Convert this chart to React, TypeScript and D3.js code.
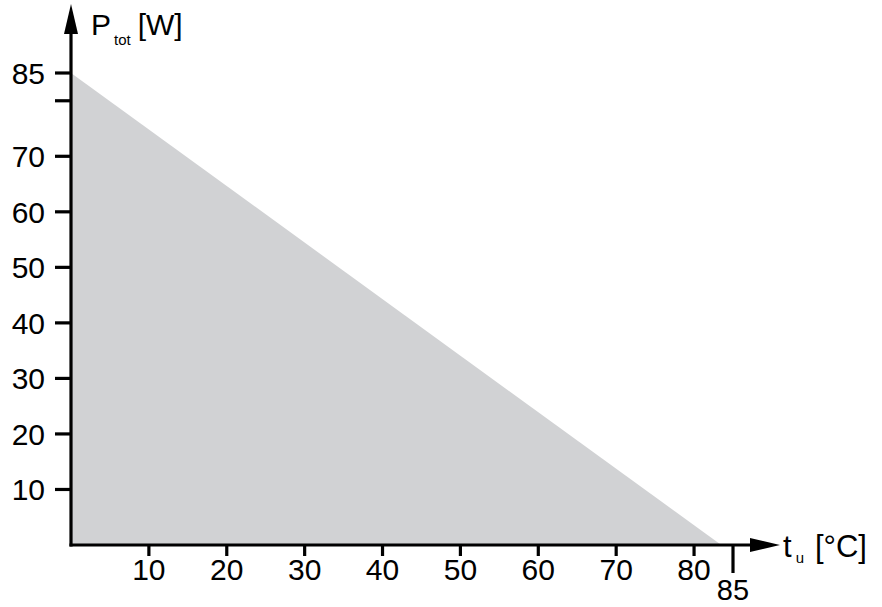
import { useMemo } from 'react';
import { scaleLinear, area } from 'd3';

// derating curve: max power vs ambient temperature
const curveTemp = [0, 83.5];
const curvePower = [85, 0];

const yTicks = [10, 20, 30, 40, 50, 60, 70, 80, 85];
const yTickLabels = ['10', '20', '30', '40', '50', '60', '70', '', '85'];
const xTicks = [10, 20, 30, 40, 50, 60, 70, 80];
const xTickLabels = ['10', '20', '30', '40', '50', '60', '70', '80'];
const xMaxTick = 85;

const width = 882;
const height = 607;
const font = '"Liberation Sans", Arial, Helvetica, sans-serif';

export default function App() {
  const x = useMemo(() => scaleLinear().domain([0, 85]).range([71, 733]), []);
  const y = useMemo(() => scaleLinear().domain([0, 85]).range([545, 73]), []);

  const pts = curveTemp.map((t, i) => ({ t, p: curvePower[i] }));
  const areaPath = area<{ t: number; p: number }>()
    .x((d) => x(d.t))
    .y0(y(0))
    .y1((d) => y(d.p))(pts) as string;

  const x0 = x(0);
  const y0 = y(0);

  return (
    <svg
      width={width}
      height={height}
      style={{ position: 'absolute', left: 0, top: 0, background: '#fff' }}
      fontFamily={font}
    >
      <path d={areaPath} fill="#d1d2d4" />

      {/* y axis */}
      <line x1={x0} x2={x0} y1={y0 + 1.5} y2={30} stroke="#000" strokeWidth={3.2} />
      <path d={`M${x0},4 L${x0 - 7},34 L${x0 + 7},34 Z`} fill="#000" />
      {yTicks.map((v, i) => (
        <g key={v}>
          <line x1={55} x2={x0} y1={y(v)} y2={y(v)} stroke="#000" strokeWidth={3.2} />
          {yTickLabels[i] && (
            <text x={45} y={y(v)} dy="0.36em" textAnchor="end" fontSize={30}>
              {yTickLabels[i]}
            </text>
          )}
        </g>
      ))}
      <text x={91} y={35} fontSize={30}>
        P
        <tspan fontSize={15} dy={10} dx={3}>tot</tspan>
        <tspan dy={-10} dx={7}>[W]</tspan>
      </text>

      {/* x axis */}
      <line x1={x0 - 1.5} x2={755} y1={y0} y2={y0} stroke="#000" strokeWidth={3.2} />
      <path d={`M780,${y0} L750,${y0 - 7} L750,${y0 + 7} Z`} fill="#000" />
      {xTicks.map((v, i) => (
        <g key={v}>
          <line x1={x(v)} x2={x(v)} y1={y0} y2={556} stroke="#000" strokeWidth={3.2} />
          <text x={x(v)} y={580} textAnchor="middle" fontSize={30}>
            {xTickLabels[i]}
          </text>
        </g>
      ))}
      <line x1={x(xMaxTick)} x2={x(xMaxTick)} y1={y0} y2={573} stroke="#000" strokeWidth={3.2} />
      <text x={x(xMaxTick)} y={600} textAnchor="middle" fontSize={29}>
        {String(xMaxTick)}
      </text>
      <text x={783} y={557} fontSize={31}>
        t
        <tspan fontSize={15} dy={6} dx={4}>u</tspan>
        <tspan dy={-6} dx={11}>[°C]</tspan>
      </text>
    </svg>
  );
}
